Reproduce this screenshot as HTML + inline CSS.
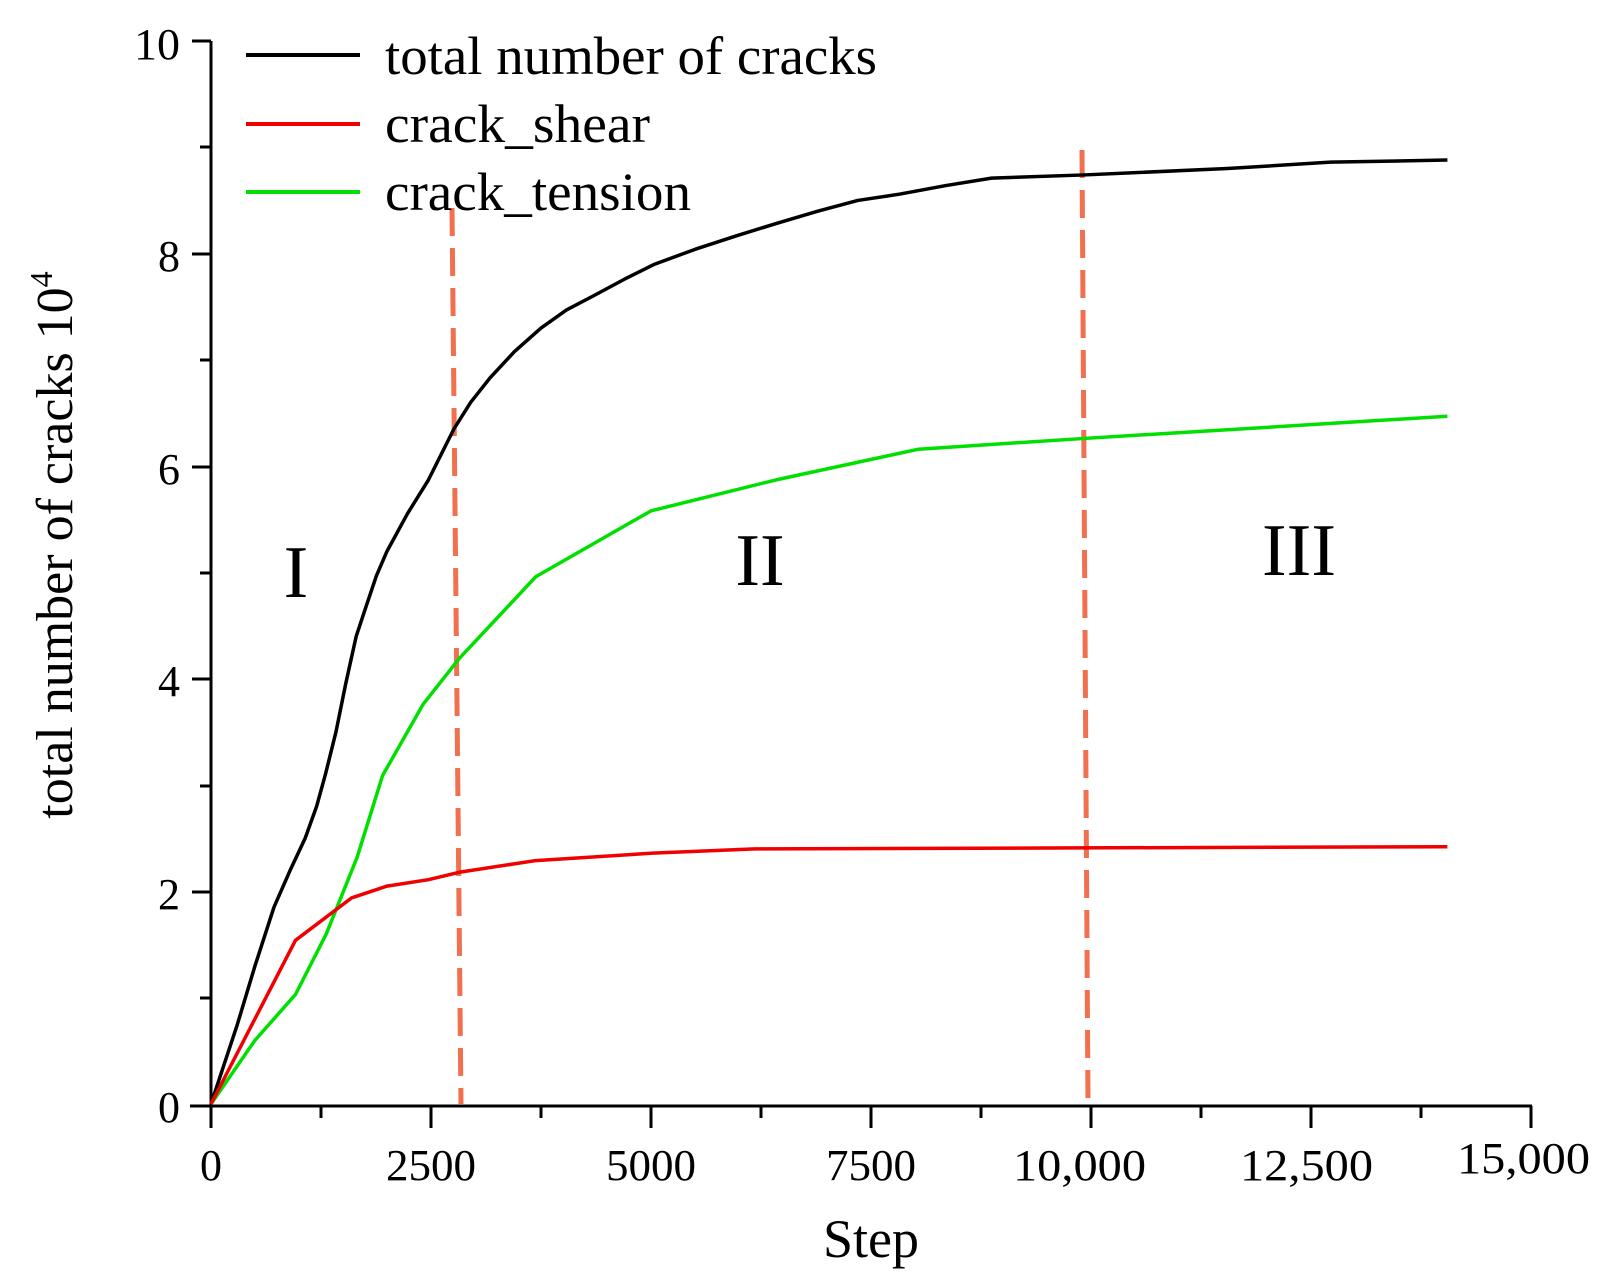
<!DOCTYPE html>
<html><head><meta charset="utf-8"><style>
html,body{margin:0;padding:0;background:#fff;}
svg{display:block;font-family:"Liberation Serif",serif;}
</style></head><body>
<svg width="1600" height="1276" viewBox="0 0 1600 1276" xmlns="http://www.w3.org/2000/svg">
<g stroke="#000" stroke-width="3" fill="none">
<line x1="211" y1="41" x2="211" y2="1106"/>
<line x1="190" y1="1106" x2="1532" y2="1106"/>
<line x1="192" y1="41" x2="211" y2="41"/>
<line x1="200" y1="147" x2="211" y2="147"/>
<line x1="192" y1="254" x2="211" y2="254"/>
<line x1="200" y1="360" x2="211" y2="360"/>
<line x1="192" y1="467" x2="211" y2="467"/>
<line x1="200" y1="573" x2="211" y2="573"/>
<line x1="192" y1="679" x2="211" y2="679"/>
<line x1="200" y1="786" x2="211" y2="786"/>
<line x1="192" y1="892" x2="211" y2="892"/>
<line x1="200" y1="998" x2="211" y2="998"/>
<line x1="211" y1="1106" x2="211" y2="1128"/>
<line x1="321" y1="1106" x2="321" y2="1118"/>
<line x1="431" y1="1106" x2="431" y2="1128"/>
<line x1="541" y1="1106" x2="541" y2="1118"/>
<line x1="651" y1="1106" x2="651" y2="1128"/>
<line x1="761" y1="1106" x2="761" y2="1118"/>
<line x1="871" y1="1106" x2="871" y2="1128"/>
<line x1="981" y1="1106" x2="981" y2="1118"/>
<line x1="1091" y1="1106" x2="1091" y2="1128"/>
<line x1="1201" y1="1106" x2="1201" y2="1118"/>
<line x1="1311" y1="1106" x2="1311" y2="1128"/>
<line x1="1421" y1="1106" x2="1421" y2="1118"/>
<line x1="1531" y1="1106" x2="1531" y2="1128"/>
</g>
<g font-size="44" fill="#000" text-anchor="end">
<text x="180" y="59" textLength="46" lengthAdjust="spacingAndGlyphs">10</text>
<text x="180" y="271">8</text>
<text x="180" y="484">6</text>
<text x="180" y="696">4</text>
<text x="180" y="909">2</text>
<text x="180" y="1122">0</text>
</g>
<g font-size="44" fill="#000">
<text x="200" y="1180" textLength="22" lengthAdjust="spacingAndGlyphs">0</text>
<text x="386" y="1180" textLength="90" lengthAdjust="spacingAndGlyphs">2500</text>
<text x="606" y="1180" textLength="90" lengthAdjust="spacingAndGlyphs">5000</text>
<text x="826" y="1180" textLength="90" lengthAdjust="spacingAndGlyphs">7500</text>
<text x="1013" y="1180" textLength="133" lengthAdjust="spacingAndGlyphs">10,000</text>
<text x="1240" y="1180" textLength="133" lengthAdjust="spacingAndGlyphs">12,500</text>
<text x="1457" y="1173" textLength="133" lengthAdjust="spacingAndGlyphs">15,000</text>
</g>
<text x="871" y="1257" font-size="54" text-anchor="middle">Step</text>
<text transform="translate(72,545) rotate(-90)" font-size="52" text-anchor="middle">total number of cracks 10<tspan dy="-20" font-size="32">4</tspan></text>
<g stroke="#f07050" stroke-width="5" stroke-dasharray="28,12" fill="none">
<line x1="452" y1="208" x2="461" y2="1104"/>
<line x1="1082" y1="150" x2="1088" y2="1104"/>
</g>
<g fill="none" stroke-width="3.5" stroke-linejoin="round" transform="translate(211,1104) scale(0.088,-106.3)">
<polyline vector-effect="non-scaling-stroke" stroke="#000" points="0,0 300,0.75 500,1.3 715,1.85 900,2.2 1070,2.5 1200,2.8 1300,3.1 1420,3.5 1530,3.95 1650,4.4 1770,4.7 1880,4.97 2000,5.2 2230,5.55 2470,5.87 2760,6.35 2950,6.6 3170,6.83 3450,7.08 3750,7.3 4040,7.47 4340,7.6 4700,7.76 5040,7.9 5500,8.04 5980,8.17 6450,8.29 6900,8.4 7350,8.5 7830,8.56 8350,8.64 8870,8.71 9920,8.74 11550,8.8 12720,8.86 14050,8.88"/>
<polyline vector-effect="non-scaling-stroke" stroke="#00e000" points="0,0 500,0.6 960,1.03 1310,1.6 1660,2.32 1950,3.09 2410,3.76 2820,4.19 3690,4.96 5000,5.58 6415,5.87 8040,6.16 9900,6.26 12680,6.4 14050,6.47"/>
<polyline vector-effect="non-scaling-stroke" stroke="#f00000" points="0,0 960,1.54 1600,1.94 2000,2.05 2470,2.11 2820,2.18 3690,2.29 5020,2.36 6180,2.4 14050,2.42"/>
</g>
<g stroke-width="4">
<line x1="246" y1="55" x2="360" y2="55" stroke="#000"/>
<line x1="246" y1="124" x2="360" y2="124" stroke="#f00000"/>
<line x1="246" y1="192" x2="360" y2="192" stroke="#00e000"/>
</g>
<g font-size="54" fill="#000">
<text x="385" y="74" textLength="492" lengthAdjust="spacingAndGlyphs">total number of cracks</text>
<text x="385" y="142" textLength="265" lengthAdjust="spacingAndGlyphs">crack_shear</text>
<text x="385" y="210" textLength="306" lengthAdjust="spacingAndGlyphs">crack_tension</text>
</g>
<g font-size="74" fill="#000" text-anchor="middle">
<text x="296" y="597">I</text>
<text x="760" y="585">II</text>
<text x="1299" y="575">III</text>
</g>
</svg>
</body></html>
